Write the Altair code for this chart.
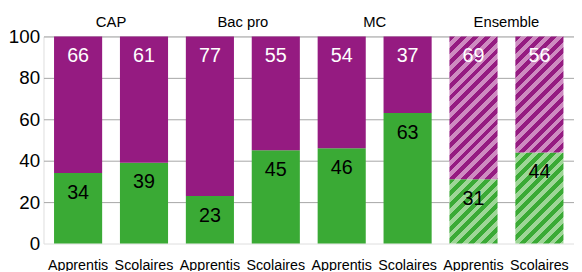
import altair as alt
import pandas as pd

# ---- data ----
groups = ["CAP", "Bac pro", "MC", "Ensemble"]
statuts = ["Apprentis", "Scolaires"]
vert = [34, 39, 23, 45, 46, 63, 31, 44]      # green (bottom) share
violet = [66, 61, 77, 55, 54, 37, 69, 56]    # purple (top) share
hatched_group = "Ensemble"
y_ticks = list(range(0, 101, 10))

# ---- styles ----
FONT = "Liberation Sans, Arial, sans-serif"
GREEN = "#3AAA35"
PURPLE = "#951B81"
LIGHT_GREEN = "#9ED697"
LIGHT_PURPLE = "#CE8BC1"
W_TOTAL = 538
H_PLOT = 210
P_INNER = 0.27
P_OUTER = 0.16

keys = []
rows = []
i = 0
for g in groups:
    for s in statuts:
        key = f"{g}|{s}"
        keys.append(key)
        v, p = vert[i], violet[i]
        rows.append(dict(key=key, group=g, statut=s, seg="vert", lo=0, hi=v, val=v,
                         hatched=(g == hatched_group)))
        rows.append(dict(key=key, group=g, statut=s, seg="violet", lo=v, hi=v + p, val=p,
                         hatched=(g == hatched_group)))
        i += 1
df = pd.DataFrame(rows)
titles = pd.DataFrame({"group": groups, "key": [f"{g}|{statuts[0]}" for g in groups]})

step = W_TOTAL / (len(keys) - P_INNER + 2 * P_OUTER)
bar_w = step * (1 - P_INNER)

x_enc = alt.X("key:N", sort=keys,
              scale=alt.Scale(domain=keys, paddingInner=P_INNER, paddingOuter=P_OUTER),
              axis=alt.Axis(title=None, labelExpr="split(datum.label, '|')[1]",
                            ticks=False, domain=False, grid=False, labelAngle=0,
                            labelPadding=26.5, labelBaseline="alphabetic",
                            labelFont=FONT, labelFontSize=14.5, labelColor="#000"))
y_scale = alt.Scale(domain=[0, 100], nice=False)
y_enc = alt.Y("lo:Q", scale=y_scale,
              axis=alt.Axis(title=None, values=y_ticks,
                            labelExpr="datum.value % 20 == 0 ? datum.label : ''",
                            ticks=False, domain=False, grid=True, gridColor="#A6A6A6",
                            gridWidth=1,
                            gridOpacity={"condition": {"test": "datum.value === 0", "value": 0}, "value": 1},
                            labelPadding=4, labelFont=FONT, labelFontSize=19,
                            labelColor="#000"))


def hatch(light, dark, W, H, period=12.0, frac=0.5):
    total = W + H
    stops = []
    k = 0
    while True:
        a = k * period / total
        if a >= 1:
            break
        b = min((k * period + period * frac) / total, 1.0)
        c = min((k + 1) * period / total, 1.0)
        stops += [(a, dark), (b, dark), (b, light), (c, light)]
        k += 1
    lam = (W + H) / (W ** 2 + H ** 2)
    return alt.LinearGradient(
        gradient="linear",
        stops=[alt.GradientStop(color=col, offset=off) for off, col in stops],
        x1=0, y1=0, x2=W * lam, y2=H * lam)


base = alt.Chart(df)
layers = []
layers.append(base.transform_filter("datum.seg === 'vert' && !datum.hatched")
              .mark_bar(color=GREEN).encode(x=x_enc, y=y_enc, y2="hi:Q"))
layers.append(base.transform_filter("datum.seg === 'violet' && !datum.hatched")
              .mark_bar(color=PURPLE).encode(x=x_enc, y=y_enc, y2="hi:Q"))

for r in rows:
    if not r["hatched"]:
        continue
    H = r["val"] / 100 * H_PLOT
    if r["seg"] == "vert":
        grad = hatch(LIGHT_GREEN, GREEN, bar_w, H)
    else:
        grad = hatch(LIGHT_PURPLE, PURPLE, bar_w, H)
    layers.append(base.transform_filter(f"datum.key === '{r['key']}' && datum.seg === '{r['seg']}'")
                  .mark_bar(color=grad).encode(x=x_enc, y=y_enc, y2="hi:Q"))

labels = base.mark_text(baseline="middle", dy=20, font=FONT, fontSize=20).encode(
    x=x_enc,
    y=alt.Y("hi:Q", scale=y_scale),
    text="val:Q",
    color=alt.Color("seg:N", scale=alt.Scale(domain=["vert", "violet"], range=["#000000", "#FFFFFF"]),
                    legend=None),
)
layers.append(labels)

title_layer = alt.Chart(titles).mark_text(baseline="alphabetic", dx=step / 2, font=FONT,
                                          fontSize=15, color="#000").encode(
    x=x_enc, y=alt.value(-10), text="group:N")
layers.append(title_layer)

chart = alt.layer(*layers).properties(
    width=W_TOTAL, height=H_PLOT,
    autosize=alt.AutoSizeParams(type="none"),
    padding={"left": 36, "top": 27, "right": 0, "bottom": 26},
).configure_view(stroke=None).configure(background="white")

chart.save("out.html", embed_options={"renderer": "svg", "actions": False})
